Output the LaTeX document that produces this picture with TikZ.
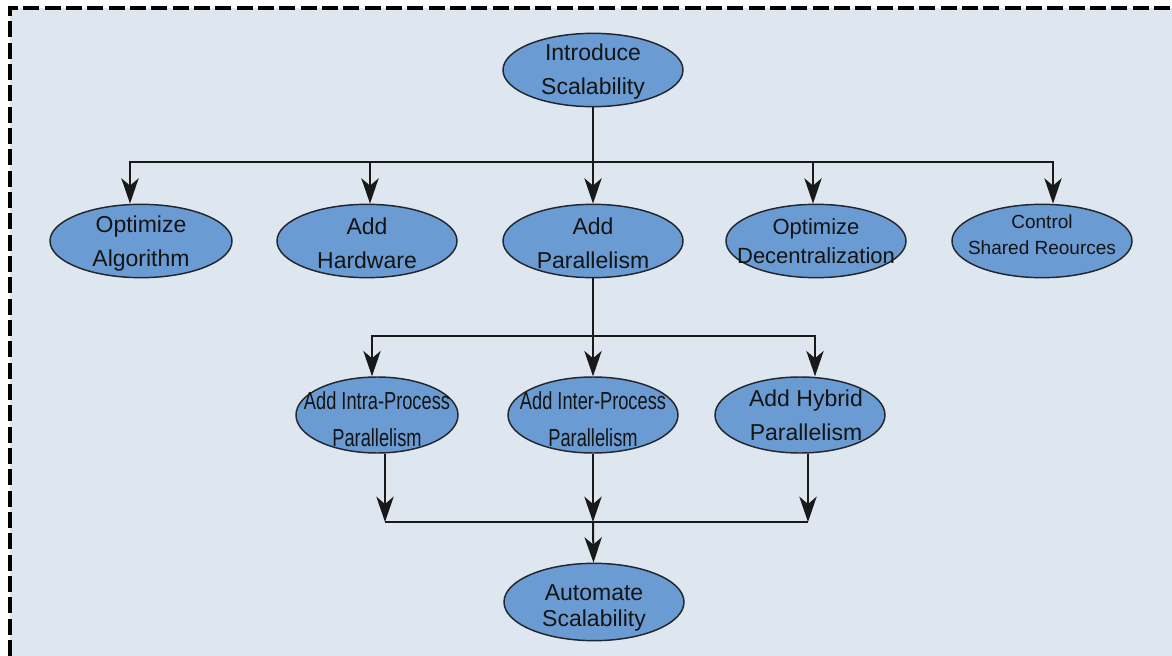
\documentclass[tikz,border=0pt]{standalone}
\usepackage{fontspec}
\setmainfont{Liberation Sans}
\usetikzlibrary{shapes.geometric,arrows.meta}
\definecolor{panel}{RGB}{222,231,240}
\definecolor{bubblefill}{RGB}{106,155,210}
\definecolor{rim}{RGB}{35,38,45}

\begin{document}
\begin{tikzpicture}[x=0.75pt,y=-0.75pt,
  bubble/.style={ellipse, draw=rim, line width=1.1pt, fill=bubblefill, inner sep=0pt,
                 minimum width=135pt, minimum height=55pt},
  txt/.style={font=\fontsize{17.25}{25.5}\selectfont, align=center, text=black!92},
  smalltxt/.style={font=\fontsize{14.25}{19.5}\selectfont, align=center, text=black!92},
  midtxt/.style={font=\fontsize{16.5}{22}\selectfont, align=center, text=black!92},
  narrowtxt/.style={font=\fontsize{18.5}{25}\selectfont, text=black!92},
  link/.style={line width=1.5pt, draw=black!90},
  tip/.style={link, -{Stealth[length=19pt,width=13pt,inset=5.5pt]}}]

% canvas and dashed frame
\useasboundingbox (0,0) rectangle (1172,656);
\fill[panel] (10,8) rectangle (1172,656);
\draw[line width=2.3pt, dash pattern=on 12pt off 4pt] (10,656) -- (10,8) -- (1172,8);

% root
\node[bubble, label={[txt,yshift=-1.5pt]center:{Introduce\\Scalability}}] (intro) at (593,70) {};

% first level
\node[bubble, minimum width=136.5pt, label={[txt,yshift=-2pt]center:{Optimize\\Algorithm}}] (alg) at (141,241) {};
\node[bubble, label={[txt,yshift=-1.5pt]center:{Add\\Hardware}}] (hw) at (367,241) {};
\node[bubble, label={[txt,yshift=-1.5pt]center:{Add\\Parallelism}}] (par) at (593,241) {};
\node[bubble, label={[midtxt]center:{Optimize\\Decentralization}}] (dec) at (816,241) {};
\node[bubble, label={[smalltxt,yshift=4.5pt]center:{Control\\Shared Reources}}] (ctl) at (1042,241) {};

% parallelism variants
\node[bubble, minimum width=121.5pt, minimum height=57pt,
      label={[narrowtxt,yshift=-4.5pt]center:{\scalebox{0.74}[1]{\begin{tabular}{@{}c@{}}Add Intra-Process\\[3pt]Parallelism\end{tabular}}}}] (intra) at (377,415) {};
\node[bubble, minimum width=127.5pt, minimum height=57pt,
      label={[narrowtxt,yshift=-4.5pt]center:{\scalebox{0.74}[1]{\begin{tabular}{@{}c@{}}Add Inter-Process\\[3pt]Parallelism\end{tabular}}}}] (inter) at (593,415) {};
\node[bubble, minimum width=127.5pt, minimum height=57pt,
      label={[txt,xshift=4.5pt]center:{Add Hybrid\\Parallelism}}] (hyb) at (800,415) {};

% goal
\node[bubble, minimum height=58pt,
      label={[txt,font=\fontsize{17.25}{20}\selectfont,yshift=-4.5pt]center:{Automate\\Scalability}}] (auto) at (594,602) {};

% root to first level
\coordinate (topbus) at (593,162);
\draw[tip] (intro) -- (par);
\draw[tip] (topbus) -| ([xshift=-8.25pt]alg.north);
\draw[tip] (topbus) -| ([xshift=2.25pt]hw.north);
\draw[tip] (topbus) -| ([xshift=-2.25pt]dec.north);
\draw[tip] (topbus) -| ([xshift=8.25pt]ctl.north);

% parallelism to variants
\coordinate (midbus) at (593,336);
\draw[tip] (par) -- (inter);
\draw[tip] (midbus) -| ([xshift=-3.75pt]intra.north);
\draw[tip] (midbus) -| ([xshift=11.25pt]hyb.north);

% variants to goal
\coordinate (botbus) at (593,522);
\coordinate (botl) at ([xshift=6pt]intra.south |- botbus);
\coordinate (botr) at ([xshift=6pt]hyb.south |- botbus);
\draw[link] (botl) -- (botr);
\draw[tip] ([xshift=6pt]intra.south) -- (botl);
\draw[tip] (inter) -- (botbus);
\draw[tip] ([xshift=6pt]hyb.south) -- (botr);
\draw[tip] (botbus) -- (auto);
\end{tikzpicture}
\end{document}
